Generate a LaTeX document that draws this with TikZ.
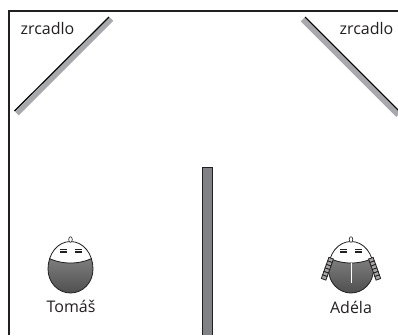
\documentclass[tikz,border=0pt]{standalone}
\usepackage{fontspec}
\setmainfont{Open Sans}
\definecolor{ink}{HTML}{231F20}
\definecolor{mirrorgray}{HTML}{A7A9AC}
\definecolor{wallgray}{HTML}{808285}
\tikzset{
  lbl/.style={font=\fontsize{16}{18}\selectfont,text=ink,inner sep=0pt},
  frameline/.style={draw=ink,line width=1.5pt},
  eye/.style={draw=ink,line width=1.4pt},
  braidcell/.style={draw=ink,fill=black!35,line width=.8pt},
}
\newcommand{\headshape}{(-22.5,1) .. controls (-22.5,-14) and (-13,-26.5) .. (0,-26.5) .. controls (13,-26.5) and (22.5,-14) .. (22.5,1) .. controls (22.5,15) and (12,25) .. (0,25) .. controls (-12,25) and (-22.5,15) .. (-22.5,1) -- cycle}
\newcommand{\facehead}[2]{%
  \begin{scope}[shift={(#1,#2)}]
    \begin{scope}
      \clip \headshape;
      \fill[white] (-24,-27) rectangle (24,27);
      \shade[top color=black!50,bottom color=black!70] (-24,-11) .. controls (-10,-3) and (10,-3) .. (24,-11) -- (24,27) -- (-24,27) -- cycle;
      \draw[ink,line width=.8pt] (-24,-11) .. controls (-10,-3) and (10,-3) .. (24,-11);
    \end{scope}
    \draw[ink,line width=.8pt] \headshape;
    \draw[ink,fill=white,line width=.6pt] (0,-28.5) ellipse (1.8 and 2.8);
    \foreach \s in {-1,1}{
      \draw[eye] (\s*7.5-3.5,-18.5) -- (\s*7.5+3.5,-18.5);
      \draw[eye] (\s*7.5-3.5,-16) -- (\s*7.5+3.5,-16);
    }
  \end{scope}}
\begin{document}
\begin{tikzpicture}[x=1pt,y=-1pt]
\useasboundingbox (0,0) rectangle (398,335);
% frame
\draw[frameline] (9,335) -- (9,11) -- (398,11);
% left mirror
\draw[mirrorgray,line width=5pt] (17,113.5) -- (111.5,19);
\draw[black,line width=1.2pt] (14.5,111) -- (109,17);
% right mirror
\begin{scope}
\clip (0,0) rectangle (398,335);
\draw[mirrorgray,line width=5pt] (302.5,19.5) -- (398,115);
\draw[black,line width=1.2pt] (305,17) -- (400,112);
\end{scope}
% wall
\fill[wallgray] (202,167) rectangle (213,335);
\draw[ink,line width=1pt] (202.5,335) -- (202.5,167.5) -- (212.5,167.5) -- (212.5,335);
% heads
\facehead{70.5}{268}
\facehead{351}{268}
% braids
\foreach \s in {-1,1}{
  \foreach \i in {0,...,5}{
    \begin{scope}[shift={(351+\s*20.5+\s*\i*1.25,260+\i*3.5)},rotate=\s*19]
      \draw[braidcell] (-2.4,-1.9) rectangle (2.4,1.9);
    \end{scope}
  }
}
\draw[white,line width=1pt] (351,263) -- (351,283);
% labels
\node[lbl] (z1) at (47.5,28) {zrcadlo};
\node[lbl] (z2) at (366.5,28) {zrcadlo};
\node[lbl] (t) at (71,306) {Tomáš};
\node[lbl] (a) at (351,307) {Adéla};
\end{tikzpicture}
\end{document}
